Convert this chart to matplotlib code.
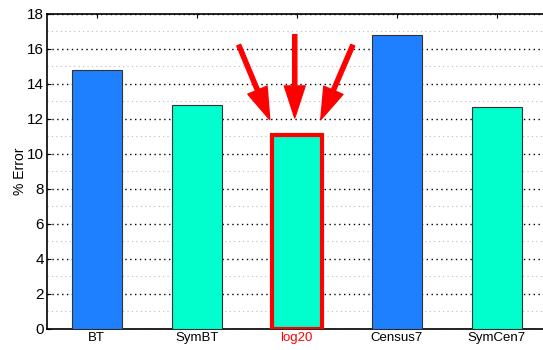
import numpy as np
import matplotlib.pyplot as plt
from matplotlib.ticker import MultipleLocator

plt.rcParams['font.family'] = ['Liberation Sans', 'DejaVu Sans']

methods = ['BT', 'SymBT', 'log20', 'Census7', 'SymCen7']
errors = [14.8, 12.8, 11.1, 16.8, 12.7]
colors = ['#1e7fff', '#00ffcc', '#00ffcc', '#1e7fff', '#00ffcc']

# arrows pointing at the highlighted bar: (tail, tip) in data coords
arrows = [((2.42, 16.2), (2.73, 11.95)),
          ((2.98, 16.8), (2.98, 12.05)),
          ((3.56, 16.2), (3.24, 11.95))]

fig = plt.figure(figsize=(5.43, 3.5), dpi=100)
ax = fig.add_axes([0.086, 0.06, 0.921, 0.901])

x = np.arange(1, len(methods) + 1)
bars = ax.bar(x, errors, width=0.5, color=colors, edgecolor='#333333', linewidth=0.8, zorder=3)

# highlight log20
hl = bars[2]
hl.set_edgecolor('red')
hl.set_linewidth(3)

for tail, tip in arrows:
    ax.annotate('', xy=tip, xytext=tail,
                arrowprops=dict(facecolor='red', edgecolor='red', width=3,
                                headwidth=15, headlength=23, shrink=0),
                zorder=4)

ax.set_xlim(0.5, 5.5)
ax.set_ylim(0, 18)
ax.set_xticks(x)
ax.set_xticklabels(methods, fontsize=9.5)
ax.get_xticklabels()[2].set_color('red')
ax.yaxis.set_major_locator(MultipleLocator(2))
ax.yaxis.set_minor_locator(MultipleLocator(1))
ax.tick_params(axis='y', labelsize=11, direction='in', length=3, pad=2)
ax.tick_params(axis='y', which='minor', length=0)
ax.tick_params(axis='x', direction='in', length=3, top=True, pad=2)
ax.set_ylabel('% Error', fontsize=10, labelpad=0)

ax.grid(axis='y', which='major', linestyle=(0, (1, 2.5)), color='black', linewidth=1.0, zorder=0)
ax.grid(axis='y', which='minor', linestyle=(0, (1, 3)), color='#bbbbbb', linewidth=0.8, zorder=0)
ax.set_axisbelow(True)
for s in ax.spines.values():
    s.set_linewidth(1.2)

fig.savefig('out.png', dpi=100)
